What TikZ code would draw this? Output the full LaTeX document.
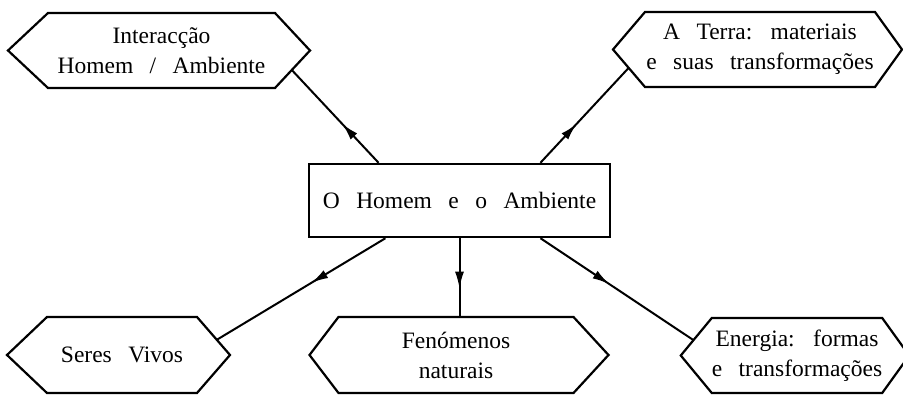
\documentclass[tikz,border=0pt]{standalone}
\usepackage{fontspec}
\setmainfont{Liberation Serif}[WordSpace=2.8]
\usetikzlibrary{calc,arrows.meta,decorations.markings}
\begin{document}
\begin{tikzpicture}[x=1pt,y=-1pt,
  lbl/.style={font=\fontsize{23.5}{30}\selectfont, align=center},
  hexline/.style={line width=2.2pt, line join=miter},
  hexa/.style 2 args={lbl, inner sep=0pt, outer sep=0pt,
    append after command={\pgfextra{\draw[hexline]
      (\tikzlastnode.north west) -- (\tikzlastnode.north east)
      -- ([xshift=#2]\tikzlastnode.east) -- (\tikzlastnode.south east)
      -- (\tikzlastnode.south west) -- ([xshift=-#1]\tikzlastnode.west) -- cycle;}}},
  centrebox/.style={lbl, draw, line width=2.5pt, minimum width=301pt, minimum height=73pt, inner sep=0pt},
  link/.style={line width=2pt, postaction={decorate},
    decoration={markings, mark=at position #1 with {\arrow{Latex[length=17pt,width=9pt]}}}}
]
\useasboundingbox (0,0) rectangle (903,395);

\node[centrebox] (c) at (459.5,200.5) {O Homem e o Ambiente};

\node[hexa={40pt}{35pt}, minimum width=227pt, minimum height=75pt] (tl) at (161.5,50.5) {Interacção\\Homem / Ambiente};
\node[hexa={32pt}{27pt}, minimum width=230pt, minimum height=75pt] (tr) at (760,49.5) {A Terra: materiais\\e suas transformações};
\node[hexa={40pt}{33pt}, minimum width=150pt, minimum height=76pt] (bl) at (122,355) {Seres Vivos};
\node[hexa={29pt}{35pt}, minimum width=235pt, minimum height=76pt] (bm) at (456,355) {Fenómenos\\naturais};
\node[hexa={31pt}{27pt}, minimum width=162pt, minimum height=75pt] (br) at (797,355.5) {Energia: formas\\e transformações};

\draw[link=0.42] (c.155.3) -- ($([xshift=35pt]tl.east)!0.52!(tl.south east)$);
\draw[link=0.41] (c.25.2) -- ($([xshift=-32pt]tr.west)!0.49!(tr.south west)$);
\draw[link=0.44] (c.-153.3) -- ($([xshift=33pt]bl.east)!0.4!(bl.north east)$);
\draw[link=0.64] (c.south) -- (c.south |- bm.north);
\draw[link=0.45] (c.-25.8) -- ($([xshift=-31pt]br.west)!0.41!(br.north west)$);
\end{tikzpicture}
\end{document}
